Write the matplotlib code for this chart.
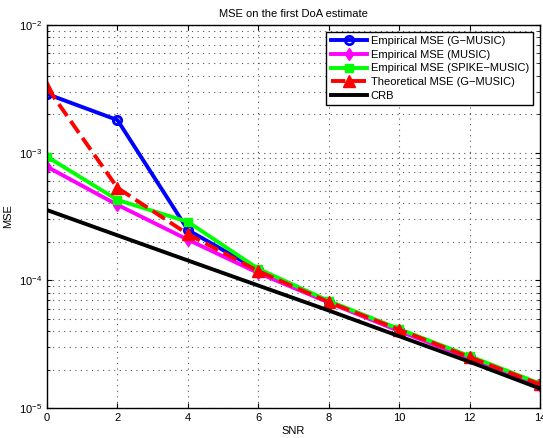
import numpy as np
import matplotlib
matplotlib.use('Agg')
import matplotlib.pyplot as plt

plt.rcParams['font.family'] = ['Liberation Sans', 'DejaVu Sans']
plt.rcParams['font.size'] = 8

snr = [0, 2, 4, 6, 8, 10, 12, 14]
mse_gmusic = [2.88e-3, 1.8e-3, 2.48e-4, 1.2e-4, 6.8e-5, 4.1e-5, 2.5e-5, 1.53e-5]
mse_music = [7.75e-4, 3.9e-4, 2.08e-4, 1.14e-4, 6.7e-5, 4.0e-5, 2.45e-5, 1.5e-5]
mse_spike = [9.3e-4, 4.26e-4, 2.87e-4, 1.23e-4, 6.9e-5, 4.15e-5, 2.55e-5, 1.55e-5]
mse_theo = [3.25e-3, 5.3e-4, 2.3e-4, 1.18e-4, 6.75e-5, 4.1e-5, 2.5e-5, 1.53e-5]
crb = [3.55e-4, 2.25e-4, 1.43e-4, 9.1e-5, 5.8e-5, 3.65e-5, 2.3e-5, 1.42e-5]

labels = ['Empirical MSE (G\u2212MUSIC)', 'Empirical MSE (MUSIC)',
          'Empirical MSE (SPIKE\u2212MUSIC)', 'Theoretical MSE (G\u2212MUSIC)', 'CRB']

fig = plt.figure(figsize=(5.43, 4.38), dpi=100)
ax = fig.add_axes([0.0866, 0.0685, 0.908, 0.8745])

ax.semilogy(snr, mse_gmusic, '-o', color='#0000ff', lw=2.8, ms=6, mfc='none', mew=2, label=labels[0])
ax.semilogy(snr, mse_music, '-d', color='#ff00ff', lw=2.8, ms=6, label=labels[1])
ax.semilogy(snr, mse_spike, '-s', color='#00ff00', lw=2.8, ms=6, label=labels[2])
ax.semilogy(snr, mse_theo, '--^', color='#ff0000', lw=2.8, ms=8, label=labels[3])
ax.semilogy(snr, crb, '-', color='black', lw=2.8, label=labels[4])

ax.set_xlim(0, 14)
ax.set_ylim(1e-5, 1e-2)
ax.set_xticks(snr)
ax.grid(True, which='major', ls=(0, (1, 4)), color='#555555', lw=0.8)
ax.grid(True, which='minor', axis='y', ls=(0, (1, 4)), color='#555555', lw=0.8)
ax.tick_params(direction='in', which='both', top=True, right=True)
for s in ax.spines.values():
    s.set_linewidth(1.0)

ax.set_title('MSE on the first DoA estimate', fontsize=8)
ax.set_xlabel('SNR', fontsize=8, labelpad=2)
ax.set_ylabel('MSE', fontsize=8)

leg = ax.legend(loc='upper right', fancybox=False, edgecolor='black', framealpha=1,
                borderaxespad=0.6, handlelength=3.3, labelspacing=0.33, borderpad=0.4,
                handletextpad=0.3)
leg.get_frame().set_linewidth(1.0)

fig.savefig('out.png', dpi=100)
